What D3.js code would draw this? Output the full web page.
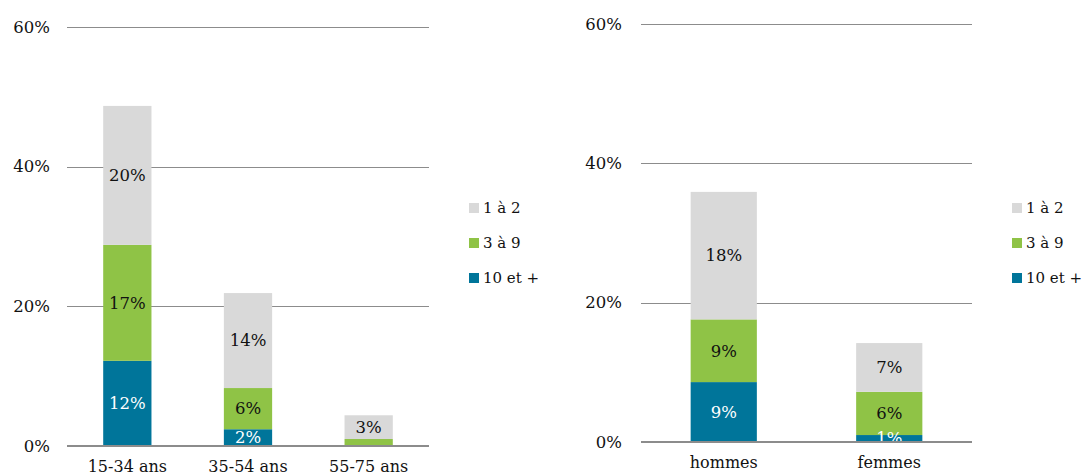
<!DOCTYPE html>
<html><head><meta charset="utf-8">
<script src="https://cdn.jsdelivr.net/npm/d3@7"></script>
<style>body{margin:0;background:#fff}svg{display:block}text{font-family:"DejaVu Serif",serif}</style>
</head><body><svg id="c" width="1085" height="475"></svg>
<script>
const seriesNames = ["10 et +", "3 à 9", "1 à 2"];
const seriesColors = ["#00759a", "#8fc346", "#d9d9d9"];
const labelColors = ["#ffffff", "#111111", "#111111"];
const tickValues = [0, 20, 40, 60];

const ageCategories = ["15-34 ans", "35-54 ans", "55-75 ans"];
const age10plus = [12.2, 2.4, 0];
const age3to9 = [16.6, 5.9, 1.0];
const age1to2 = [19.9, 13.6, 3.4];
const ageLabels10plus = ["12%", "2%", ""];
const ageLabels3to9 = ["17%", "6%", ""];
const ageLabels1to2 = ["20%", "14%", "3%"];

const sexCategories = ["hommes", "femmes"];
const sex10plus = [8.6, 1.0];
const sex3to9 = [9.0, 6.2];
const sex1to2 = [18.3, 7.0];
const sexLabels10plus = ["9%", "1%"];
const sexLabels3to9 = ["9%", "6%"];
const sexLabels1to2 = ["18%", "7%"];

const svg = d3.select("#c");

function panel(cfg) {
  const g = svg.append("g");
  const x = d3.scaleBand().domain(cfg.cats).range([cfg.x0, cfg.x1]).paddingInner(0.6).paddingOuter(0.3);
  const y = d3.scaleLinear().domain([0, 60]).range([cfg.y0, cfg.y1]);
  g.selectAll("line.grid").data(tickValues.filter(v => v > 0)).join("line")
    .attr("x1", cfg.x0).attr("x2", cfg.x1)
    .attr("y1", d => Math.round(y(d)) + 0.5).attr("y2", d => Math.round(y(d)) + 0.5)
    .attr("stroke", "#8c8c8c").attr("stroke-width", 1);
  g.selectAll("text.yt").data(tickValues).join("text")
    .attr("x", cfg.tickX).attr("y", d => y(d)).attr("dy", "0.35em")
    .attr("text-anchor", "end").attr("font-size", 16.5).attr("fill", "#111")
    .text(d => d + "%");
  const rows = cfg.cats.map((c, i) => {
    const r = { cat: c };
    cfg.series.forEach((s, k) => { r[seriesNames[k]] = s[i]; });
    return r;
  });
  const stack = d3.stack().keys(seriesNames)(rows);
  stack.forEach((layer, k) => {
    g.selectAll(null).data(layer).join("rect")
      .attr("x", d => x(d.data.cat)).attr("width", x.bandwidth())
      .attr("y", d => y(d[1])).attr("height", d => y(d[0]) - y(d[1]))
      .attr("fill", seriesColors[k]);
  });
  stack.forEach((layer, k) => {
    g.selectAll(null).data(layer).join("text")
      .attr("x", d => x(d.data.cat) + x.bandwidth() / 2)
      .attr("y", d => (y(d[0]) + y(d[1])) / 2).attr("dy", "0.35em")
      .attr("text-anchor", "middle").attr("font-size", 16.5)
      .attr("fill", labelColors[k])
      .text((d, i) => cfg.labels[k][i]);
  });
  g.append("line").attr("x1", cfg.x0).attr("x2", cfg.x1)
    .attr("y1", y(0)).attr("y2", y(0)).attr("stroke", "#8c8c8c").attr("stroke-width", 2);
  g.selectAll("text.cat").data(cfg.cats).join("text")
    .attr("x", d => x(d) + x.bandwidth() / 2).attr("y", cfg.y0 + 26)
    .attr("text-anchor", "middle").attr("font-size", 16).attr("fill", "#111")
    .text(d => d);
  const order = [2, 1, 0];
  order.forEach((k, j) => {
    const ly = cfg.legY + j * 35;
    g.append("rect").attr("x", cfg.legX).attr("y", ly - 5).attr("width", 10).attr("height", 10).attr("fill", seriesColors[k]);
    g.append("text").attr("x", cfg.legX + 14).attr("y", ly).attr("dy", "0.35em")
      .attr("font-size", 15).attr("fill", "#111").text(seriesNames[k]);
  });
}

panel({ cats: ageCategories, series: [age10plus, age3to9, age1to2],
  labels: [ageLabels10plus, ageLabels3to9, ageLabels1to2],
  x0: 67, x1: 429, y0: 446, y1: 27, tickX: 50, legX: 469, legY: 208 });
panel({ cats: sexCategories, series: [sex10plus, sex3to9, sex1to2],
  labels: [sexLabels10plus, sexLabels3to9, sexLabels1to2],
  x0: 641, x1: 972, y0: 442, y1: 24, tickX: 622, legX: 1012, legY: 208 });
</script></body></html>
